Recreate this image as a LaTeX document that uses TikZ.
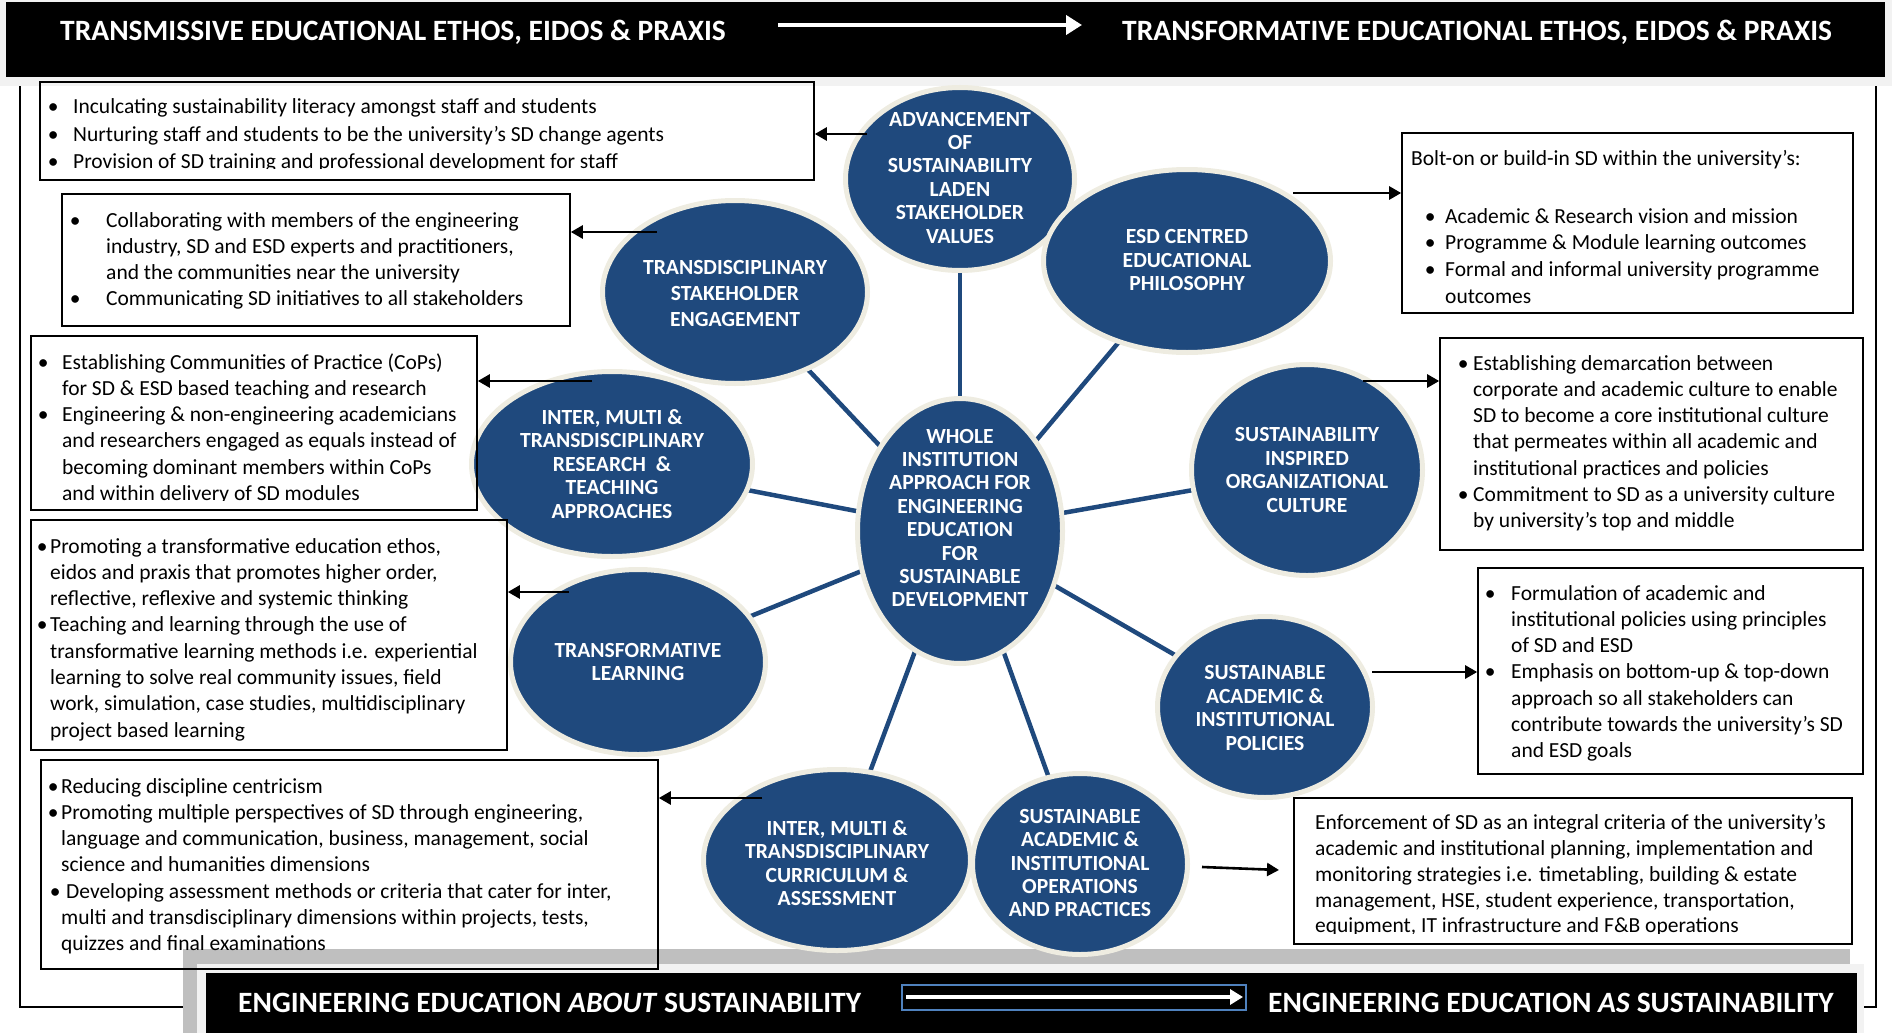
\documentclass[tikz,border=0pt]{standalone}
\usepackage{fontspec}
\setmainfont{Carlito}
\usetikzlibrary{shapes.geometric,arrows.meta}
\definecolor{navy}{HTML}{1F497D}
\definecolor{rim}{HTML}{EEECE1}
\definecolor{band}{HTML}{BFBFBF}
\definecolor{haze}{HTML}{F2F2F2}
\definecolor{edgeblue}{HTML}{4F81BD}
\pgfdeclarelayer{back}
\pgfsetlayers{back,main}
% bullet hung #1 pt to the left of the current point
\newcommand{\bu}[1]{\llap{\makebox[0pt][c]{\textbullet}\hspace*{#1pt}}}
\newcommand{\ind}[1]{\hspace*{#1pt}}
\begin{document}
\begin{tikzpicture}[x=1pt,y=-1pt,
  blob/.style={ellipse, fill=navy, draw=rim, line width=5pt, inner sep=0pt},
  blobtext/.style={text=white, align=center, inner sep=0pt,
    font=\fontsize{21.6}{23.4}\selectfont\bfseries},
  spoke/.style={draw=navy, line width=4.5pt},
  infobox/.style={draw=black, line width=1.6pt, rectangle, inner sep=0pt},
  infotext/.style={anchor=north west, inner sep=0pt, align=left,
    font=\fontsize{21.5}{26.3}\selectfont},
  hdr/.style={text=white, inner sep=0pt, anchor=west,
    font=\fontsize{29.5}{31}\selectfont\bfseries},
  conn/.style={line width=2.6pt, -{Triangle[width=13pt,length=12pt]}},
  bigarrow/.style={white, line width=4.5pt, -{Triangle[width=19pt,length=16pt]}}
]
\useasboundingbox (0,0) rectangle (1892,1033);

% outer frame
\draw[line width=2.2pt] (20,80) rectangle (1876,1007);

% top banner
\fill[haze] (0,0) rectangle (1892,86);
\fill[black] (6,2) rectangle (1885,77);
\node[hdr] (toplft) at (60,32.5) {TRANSMISSIVE EDUCATIONAL ETHOS, EIDOS \& PRAXIS};
\node[hdr] (toprgt) at (1122,32.5) {TRANSFORMATIVE EDUCATIONAL ETHOS, EIDOS \& PRAXIS};
\coordinate (ta1) at (778,25);
\coordinate (ta2) at (1082,25);
\draw[bigarrow] (ta1) -- (ta2);

% bottom banner
\fill[band] (183,949) rectangle (1850,1033);
\fill[haze] (197,964) rectangle (1864,1033);
\fill[black] (206,973) rectangle (1857,1033);
\node[hdr] (botlft) at (238,1002.5) {ENGINEERING EDUCATION \textit{ABOUT} SUSTAINABILITY};
\node[hdr] (botrgt) at (1268,1002.5) {ENGINEERING EDUCATION \textit{AS} SUSTAINABILITY};
\node[draw=edgeblue, line width=1.5pt, minimum width=344pt, minimum height=25pt, inner sep=0pt] (abox) at (1074,997.5) {};
\coordinate (ba1) at (906,997);
\coordinate (ba2) at (1243,997);
\draw[white, line width=3.5pt, -{Triangle[width=15pt,length=13pt]}] (ba1) -- (ba2);

% ellipses
\node[blob, minimum width=229pt, minimum height=183pt] (adv) at (960,179) {};
\node[blob, minimum width=287pt, minimum height=183pt] (esd) at (1187,261) {};
\node[blob, minimum width=265pt, minimum height=183pt] (stk) at (735,292) {};
\node[blob, minimum width=281pt, minimum height=185pt] (res) at (612,464) {};
\node[blob, minimum width=255pt, minimum height=185pt] (trl) at (638,662) {};
\node[blob, minimum width=205pt, minimum height=265pt] (whole) at (960,531) {};
\node[blob, minimum width=231pt, minimum height=211pt] (org) at (1307,470) {};
\node[blob, minimum width=215pt, minimum height=181pt] (pol) at (1265,707) {};
\node[blob, minimum width=267pt, minimum height=181pt] (cur) at (837,860) {};
\node[blob, minimum width=215pt, minimum height=181pt] (ops) at (1080,864) {};

\node[blobtext] (advt) at (960,177.5) {ADVANCEMENT\\OF\\SUSTAINABILITY\\LADEN\\STAKEHOLDER\\VALUES};
\node[blobtext] (esdt) at (1187,260) {ESD CENTRED\\EDUCATIONAL\\PHILOSOPHY};
\node[blobtext, font=\fontsize{21.6}{26}\selectfont\bfseries] (stkt) at (735,293) {TRANSDISCIPLINARY\\STAKEHOLDER\\ENGAGEMENT};
\node[blobtext] (rest) at (612,464) {INTER, MULTI \&\\TRANSDISCIPLINARY\\RESEARCH \ \&\\TEACHING\\APPROACHES};
\node[blobtext] (trlt) at (638,662) {TRANSFORMATIVE\\LEARNING};
\node[blobtext] (wholet) at (960,518) {WHOLE\\INSTITUTION\\APPROACH FOR\\ENGINEERING\\EDUCATION\\FOR\\SUSTAINABLE\\DEVELOPMENT};
\node[blobtext] (orgt) at (1307,470) {SUSTAINABILITY\\INSPIRED\\ORGANIZATIONAL\\CULTURE};
\node[blobtext] (polt) at (1265,708) {SUSTAINABLE\\ACADEMIC \&\\INSTITUTIONAL\\POLICIES};
\node[blobtext] (curt) at (837,863) {INTER, MULTI \&\\TRANSDISCIPLINARY\\CURRICULUM \&\\ASSESSMENT};
\node[blobtext] (opst) at (1080,863) {SUSTAINABLE\\ACADEMIC \&\\INSTITUTIONAL\\OPERATIONS\\AND PRACTICES};

% spokes behind the ellipses
\begin{pgfonlayer}{back}
\foreach \o in {adv,esd,org,pol,ops,cur,trl,res,stk}
  \draw[spoke] (whole.center) -- (\o.center);
\end{pgfonlayer}

% text boxes
\node[infobox, minimum width=774pt, minimum height=98pt] (bA) at (427,131) {};
\node[infobox, minimum width=508pt, minimum height=132pt] (bB) at (316,260) {};
\node[infobox, minimum width=446pt, minimum height=174pt] (bC) at (254,423) {};
\node[infobox, minimum width=476pt, minimum height=230pt] (bD) at (269,635) {};
\node[infobox, minimum width=617pt, minimum height=209pt] (bE) at (349.5,864.5) {};
\node[infobox, minimum width=451pt, minimum height=180pt] (bF) at (1627.5,223) {};
\node[infobox, minimum width=423pt, minimum height=212pt] (bG) at (1651.5,444) {};
\node[infobox, minimum width=385pt, minimum height=206pt] (bH) at (1670.5,671) {};
\node[infobox, minimum width=558pt, minimum height=146pt] (bI) at (1573,871) {};

\begin{scope}
\clip (40,82) rectangle (814,168);
\node[infotext, font=\fontsize{21.5}{27.5}\selectfont] (tA) at (73,94.5) {%
\strut\bu{20}Inculcating sustainability literacy amongst staff and students\\
\bu{20}Nurturing staff and students to be the university’s SD change agents\\
\bu{20}Provision of SD training and professional development for staff};
\end{scope}

\node[infotext] (tB) at (106,208.4) {%
\strut\bu{31}Collaborating with members of the engineering\\
industry, SD and ESD experts and practitioners,\\
and the communities near the university\\
\bu{31}Communicating SD initiatives to all stakeholders};

\begin{scope}
\clip (31,336) rectangle (477,500);
\node[infotext] (tC) at (62,350.4) {%
\strut\bu{19}Establishing Communities of Practice (CoPs)\\
for SD \& ESD based teaching and research\\
\bu{19}Engineering \& non-engineering academicians\\
and researchers engaged as equals instead of\\
becoming dominant members within CoPs\\
and within delivery of SD modules};
\end{scope}

\node[infotext] (tD) at (50,534.4) {%
\strut\bu{8}Promoting a transformative education ethos,\\
eidos and praxis that promotes higher order,\\
reflective, reflexive and systemic thinking\\
\bu{8}Teaching and learning through the use of\\
transformative learning methods i.e. experiential\\
learning to solve real community issues, field\\
work, simulation, case studies, multidisciplinary\\
project based learning};

\node[infotext] (tE) at (61,774.4) {%
\strut\bu{8}Reducing discipline centricism\\
\bu{8}Promoting multiple perspectives of SD through engineering,\\
language and communication, business, management, social\\
science and humanities dimensions\\
\bu{6}\ind{5}Developing assessment methods or criteria that cater for inter,\\
multi and transdisciplinary dimensions within projects, tests,\\
quizzes and final examinations};

\node[infotext] (tF1) at (1411,146.4) {%
\strut Bolt-on or build-in SD within the university’s:};
\node[infotext, font=\fontsize{21.5}{26.8}\selectfont] (tF2) at (1445,204.2) {%
\strut\bu{15}Academic \& Research vision and mission\\
\bu{15}Programme \& Module learning outcomes\\
\bu{15}Formal and informal university programme\\
outcomes};

\node[infotext] (tG) at (1473,351.4) {%
\strut\bu{10}Establishing demarcation between\\
corporate and academic culture to enable\\
SD to become a core institutional culture\\
that permeates within all academic and\\
institutional practices and policies\\
\bu{10}Commitment to SD as a university culture\\
by university’s top and middle};

\node[infotext] (tH) at (1511,581.4) {%
\strut\bu{21}Formulation of academic and\\
institutional policies using principles\\
of SD and ESD\\
\bu{21}Emphasis on bottom-up \& top-down\\
approach so all stakeholders can\\
contribute towards the university’s SD\\
and ESD goals};

\begin{scope}
\clip (1294,798) rectangle (1852,933);
\node[infotext, font=\fontsize{21.5}{25.8}\selectfont] (tI) at (1315,811.4) {%
\strut Enforcement of SD as an integral criteria of the university’s\\
academic and institutional planning, implementation and\\
monitoring strategies i.e. timetabling, building \& estate\\
management, HSE, student experience, transportation,\\
equipment, IT infrastructure and F\&B operations};
\end{scope}

% connectors from ellipses to boxes
\coordinate (sA) at (867,134);
\coordinate (sB) at (657,232);
\coordinate (sC) at (592,381);
\coordinate (sD) at (569,592);
\coordinate (sE) at (762,798);
\coordinate (sF) at (1293,193);
\coordinate (sG) at (1363,381);
\coordinate (sH) at (1372,672);
\coordinate (sI) at (1202,867);
\coordinate (eI) at (1279,870);
\draw[conn] (sA) -- (sA -| bA.east);
\draw[conn] (sB) -- (sB -| bB.east);
\draw[conn] (sC) -- (sC -| bC.east);
\draw[conn] (sD) -- (sD -| bD.east);
\draw[conn] (sE) -- (sE -| bE.east);
\draw[conn] (sF) -- (sF -| bF.west);
\draw[conn] (sG) -- (sG -| bG.west);
\draw[conn] (sH) -- (sH -| bH.west);
\draw[conn] (sI) -- (eI);
\end{tikzpicture}
\end{document}
